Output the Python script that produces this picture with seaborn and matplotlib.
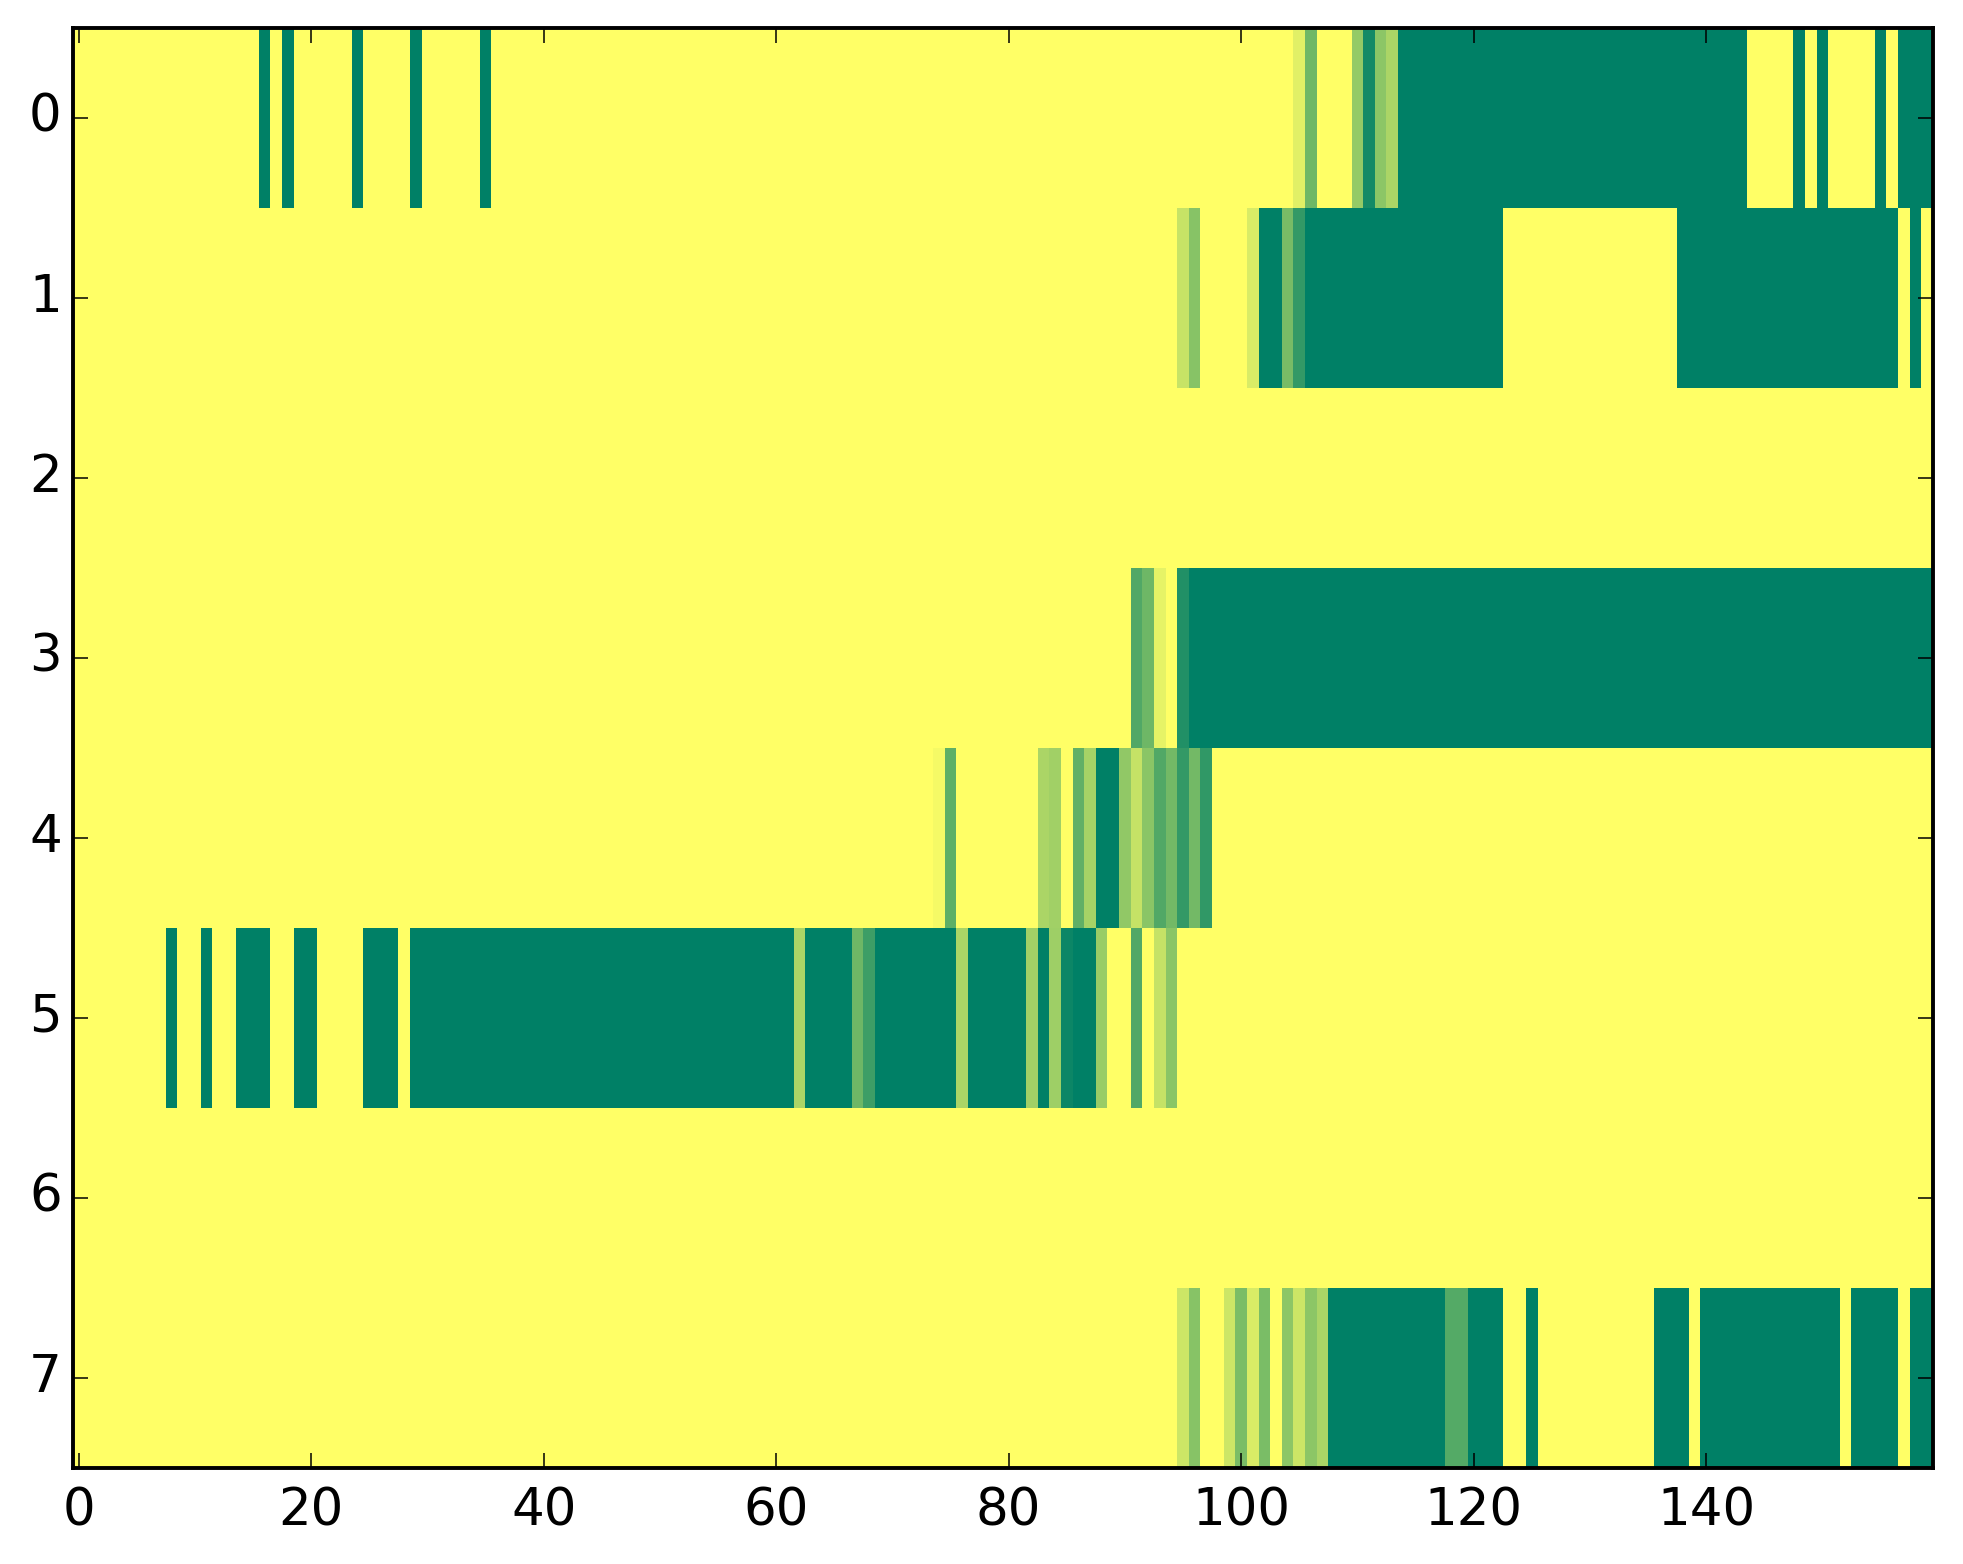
import numpy as np
import seaborn as sns
import matplotlib
matplotlib.use("Agg")
import matplotlib.pyplot as plt

n_cols = 160
row_labels = [0, 1, 2, 3, 4, 5, 6, 7]
x_tick_labels = [0, 20, 40, 60, 80, 100, 120, 140]

# each row: (first column, last column, value)
row0 = [(16, 16, 1), (18, 18, 1), (24, 24, 1), (29, 29, 1), (35, 35, 1),
        (105, 105, 0.12), (106, 106, 0.57), (110, 110, 0.42), (111, 111, 0.92),
        (112, 112, 0.45), (113, 113, 0.33), (114, 143, 1), (148, 148, 1),
        (150, 150, 1), (155, 155, 1), (157, 159, 1)]
row1 = [(95, 95, 0.22), (96, 96, 0.47), (101, 101, 0.15), (102, 103, 1),
        (104, 104, 0.53), (105, 105, 0.8), (106, 122, 1), (138, 156, 1),
        (158, 158, 1)]
row2 = []
row3 = [(91, 91, 0.68), (92, 92, 0.57), (93, 93, 0.1), (95, 95, 0.87), (96, 159, 1)]
row4 = [(74, 74, 0.04), (75, 75, 0.63), (83, 83, 0.33), (84, 84, 0.37),
        (86, 86, 0.62), (87, 87, 0.35), (88, 89, 1), (90, 90, 0.43),
        (91, 91, 0.23), (92, 92, 0.46), (93, 93, 0.68), (94, 94, 0.55),
        (95, 95, 0.8), (96, 96, 0.55), (97, 97, 0.81)]
row5 = [(8, 8, 1), (11, 11, 1), (14, 16, 1), (19, 20, 1), (25, 27, 1),
        (29, 61, 1), (62, 62, 0.33), (63, 66, 1), (67, 67, 0.57), (68, 68, 0.76),
        (69, 75, 1), (76, 76, 0.33), (77, 81, 1), (82, 82, 0.37), (83, 83, 1),
        (84, 84, 0.38), (85, 85, 0.95), (86, 87, 1), (88, 88, 0.4),
        (91, 91, 0.68), (93, 93, 0.23), (94, 94, 0.46)]
row6 = []
row7 = [(95, 95, 0.2), (96, 96, 0.47), (99, 99, 0.2), (100, 100, 0.52),
        (101, 101, 0.15), (102, 102, 0.52), (104, 104, 0.45), (105, 105, 0.2),
        (106, 106, 0.45), (107, 107, 0.33), (108, 117, 1), (118, 119, 0.67),
        (120, 122, 1), (125, 125, 1), (136, 138, 1), (140, 151, 1),
        (153, 156, 1), (158, 159, 1)]

rows = [row0, row1, row2, row3, row4, row5, row6, row7]
data = np.zeros((len(rows), n_cols))
for i, runs in enumerate(rows):
    for a, b, v in runs:
        data[i, a:b + 1] = v

plt.rcParams['font.family'] = ['DejaVu Sans']
fig = plt.figure(figsize=(19.63, 15.64), dpi=100)
ax = fig.add_axes([0.0371, 0.0614, 0.9475, 0.9207])

sns.heatmap(data, cmap="summer_r", vmin=0, vmax=1, cbar=False, ax=ax)

ax.set_xticks(np.array(x_tick_labels) + 0.5)
ax.set_xticklabels(x_tick_labels, rotation=0)
ax.set_yticks(np.array(row_labels) + 0.5)
ax.set_yticklabels(row_labels, rotation=0)
ax.set_xlim(0, n_cols)
ax.set_ylim(len(rows), 0)

for s in ax.spines.values():
    s.set_visible(True)
    s.set_linewidth(2.8)
    s.set_color("black")
ax.tick_params(direction="in", length=11, width=1.1, top=True, right=True,
               labelsize=37, colors="black")
ax.tick_params(axis="x", pad=13)
ax.tick_params(axis="y", pad=8)

fig.savefig("out.png", dpi=100)
